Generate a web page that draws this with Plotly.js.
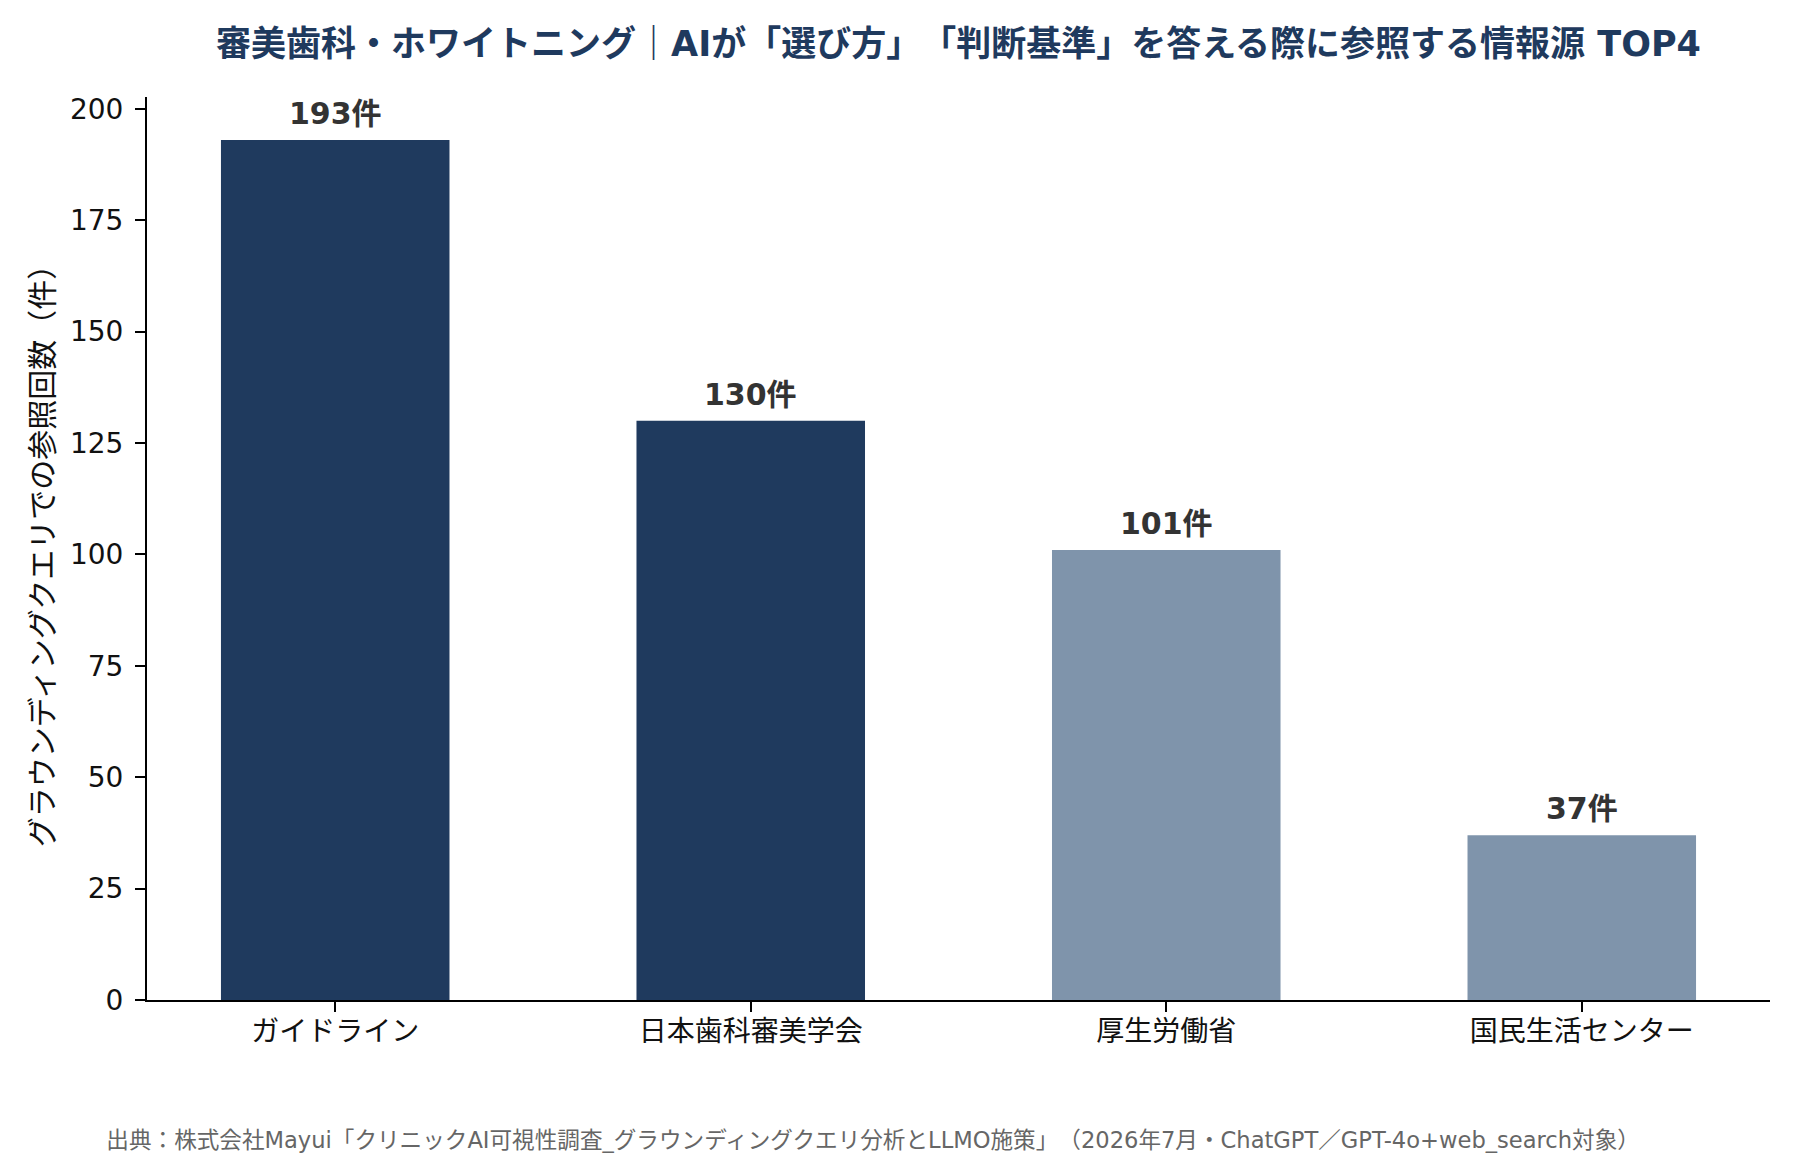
<!DOCTYPE html>
<html>
<head>
<meta charset="utf-8">
<script src="https://cdn.plot.ly/plotly-3.0.1.min.js"></script>
<style>
  html, body { margin: 0; padding: 0; background: #fff; }
  #chart { width: 1800px; height: 1160px; }
  /* 全角括弧の詰めを無効にする */
  #chart text { text-spacing-trim: space-all; font-feature-settings: "chws" 0, "halt" 0, "palt" 0; }
</style>
</head>
<body>
<div id="chart"></div>
<script>
// 情報源カテゴリ
const categories = ['ガイドライン', '日本歯科審美学会', '厚生労働省', '国民生活センター'];
// 参照回数（件）
const counts = [193, 130, 101, 37];
// 上位2件は濃色、残りは淡色
const barColors = ['#1f3a5e', '#1f3a5e', '#7f94ab', '#7f94ab'];
const yTicks = [0, 25, 50, 75, 100, 125, 150, 175, 200];

const FONT = '"DejaVu Sans", "Noto Sans CJK JP", sans-serif';

const trace = {
    x: categories,
    y: counts,
    type: 'bar',
    width: 0.55,
    marker: { color: barColors, line: { width: 0 } },
    hoverinfo: 'skip'
};

// 棒の上の件数ラベル
const labels = categories.map(function (c, i) {
    return {
        x: c, y: counts[i], xref: 'x', yref: 'y',
        text: '<b>' + counts[i] + '件</b>',
        showarrow: false, yanchor: 'bottom', yshift: 7,
        font: { family: FONT, size: 30, color: '#333333' }
    };
});

// 出典
labels.push({
    xref: 'paper', yref: 'paper', x: -0.023, y: -0.155,
    xanchor: 'left', yanchor: 'middle', showarrow: false,
    text: '出典：株式会社Mayui「クリニックAI可視性調査_グラウンディングクエリ分析とLLMO施策」（2026年7月・ChatGPT／GPT-4o+web_search対象）',
    font: { family: FONT, size: 22.6, color: '#666666' }
});

const layout = {
    width: 1800,
    height: 1160,
    margin: { l: 147, r: 30, t: 97, b: 160 },
    paper_bgcolor: '#ffffff',
    plot_bgcolor: '#ffffff',
    font: { family: FONT, size: 26, color: '#111111' },
    showlegend: false,
    title: {
        text: '<b>審美歯科・ホワイトニング｜AIが「選び方」「判断基準」を答える際に参照する情報源 TOP4</b>',
        font: { family: FONT, size: 35, color: '#1f3a5e' },
        xref: 'paper', x: 0.5, xanchor: 'center',
        yref: 'container', y: 0.962, yanchor: 'middle'
    },
    xaxis: {
        type: 'category',
        range: [-0.453, 3.453],
        showline: true, linecolor: '#000000', linewidth: 2,
        ticks: 'outside', ticklen: 10, tickwidth: 2, tickcolor: '#000000',
        showgrid: false, zeroline: false,
        tickfont: { family: FONT, size: 28, color: '#111111' },
        ticklabelstandoff: -5
    },
    yaxis: {
        range: [0, 202.65],
        tickvals: yTicks,
        showline: true, linecolor: '#000000', linewidth: 2,
        ticks: 'outside', ticklen: 10, tickwidth: 2, tickcolor: '#000000',
        showgrid: false, zeroline: false,
        tickfont: { family: FONT, size: 28, color: '#111111' },
        ticklabelstandoff: 6,
        title: {
            text: 'グラウンディングクエリでの参照回数（件）',
            font: { family: FONT, size: 30, color: '#111111' },
            standoff: 7
        }
    },
    annotations: labels
};

Plotly.newPlot('chart', [trace], layout, { displayModeBar: false, staticPlot: true });
</script>
</body>
</html>
